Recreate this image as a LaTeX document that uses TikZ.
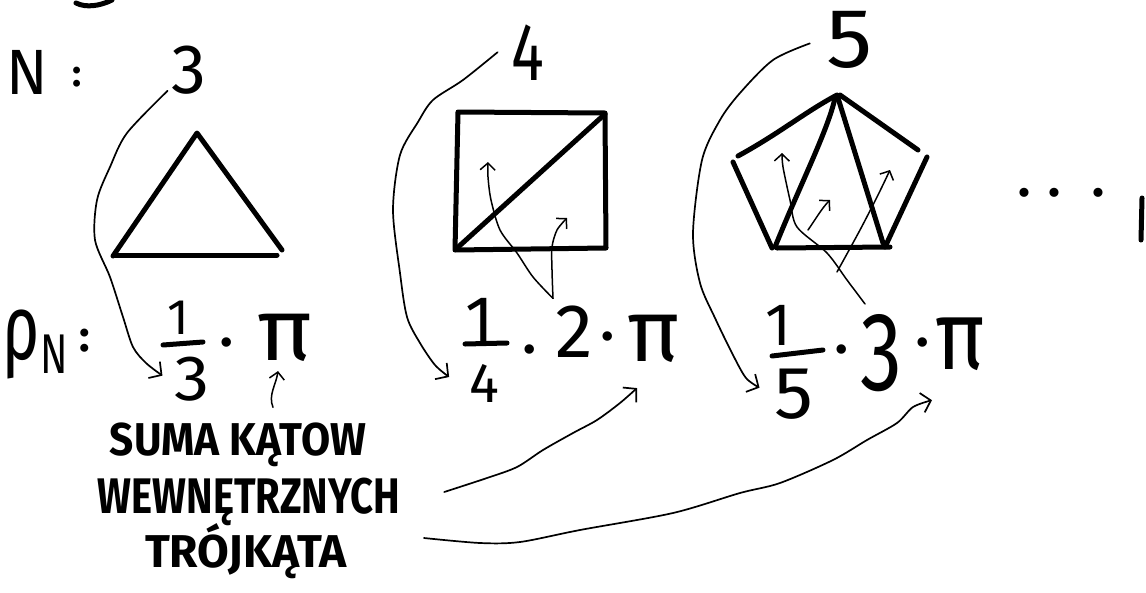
\documentclass[tikz,border=0pt]{standalone}
\usepackage{fontspec}
\setmainfont{Fira Sans}
\usepackage{graphicx}
\usetikzlibrary{arrows.meta}
% handwritten-like text: regular weight
\newcommand{\hw}[3][1]{{\fontsize{#2}{#2}\selectfont\scalebox{#1}[1]{#3}}}
% bold caption text
\newcommand{\hb}[3][1]{{\fontsize{#2}{#2}\selectfont\bfseries\scalebox{#1}[1]{#3}}}
\begin{document}
\begin{tikzpicture}[x=1pt,y=-1pt,
  txt/.style={inner sep=0pt, outer sep=0pt, anchor=base},
  stroke/.style={line width=5pt, line cap=round, line join=round},
  conn/.style={line width=1.7pt, line cap=round, line join=round, -{Straight Barb[length=9pt,width=20pt]}},
  sconn/.style={line width=1.5pt, line cap=round, line join=round, -{Straight Barb[length=7pt,width=15pt]}}]
\path[use as bounding box, fill=white] (0,0) rectangle (1146,592);

% --- top row labels
\node[txt] (nN) at (27,94) {\hw[0.95]{64}{N}};
\node[txt] (colA) at (77,86) {\hb{38}{:}};
\node[txt] (n3) at (189,93) {\hw{70}{3}};
\node[txt] (n4) at (528,80) {\hw[0.75]{82}{4}};
\node[txt] (n5) at (850,67) {\hw[1.1]{84}{5}};
\node[txt] (ell) at (1061,196) {\hb{50}{.\hspace{18pt}.\hspace{32pt}.}};

% --- second row
\node[txt, anchor=base west] (rho) at (2,373) {\raisebox{14pt}{\hw[0.7]{92}{ρ}}\kern1pt\hw[0.72]{56}{N}};
\node[txt] (colB) at (85,351) {\hb{44}{:}};

\node[txt] (num3) at (178,334) {\hw{50}{1}};
\node[txt] (den3) at (192,400) {\hw[1.1]{64}{3}};
\node[txt] (dt3) at (227,358) {\hb{52}{·}};
\node[txt] (pi3) at (285,360) {\hw[1.05]{88}{π}};

\node[txt] (num4) at (480,342) {\hw{66}{1}};
\node[txt] (den4) at (484,402) {\hw{56}{4}};
\node[txt] (dt4a) at (530,365) {\hb{52}{·}};
\node[txt] (two) at (574,357) {\hw{76}{2}};
\node[txt] (dt4b) at (608,352) {\hb{52}{·}};
\node[txt] (pi4) at (654,361) {\hw{88}{π}};

\node[txt] (num5) at (778,345) {\hw{60}{1}};
\node[txt] (den5) at (794,418) {\hw[1.05]{74}{5}};
\node[txt] (dt5a) at (842,365) {\hb{52}{·}};
\node[txt] (three) at (881,390) {\hw[0.75]{112}{3}};
\node[txt] (dt5b) at (923,358) {\hb{52}{·}};
\node[txt] (pi5) at (960,369) {\hw[0.85]{98}{π}};

% --- caption
\node[txt] (l1) at (238,455) {\hb[0.92]{46}{SUMA KĄTOW}};
\node[txt] (l2) at (249,513) {\hb[0.8]{50}{WEWNĘTRZNYCH}};
\node[txt] (l3) at (246,567) {\hb{46}{TRÓJKĄTA}};

% --- fraction bars
\draw[stroke] (163,345) -- (203,342);
\draw[stroke] (465,344) -- (507,343);
\draw[stroke] (772,356) -- (823,350);

% --- partial strokes at the edges
\draw[stroke] (76,3) .. controls (86,8) and (100,6) .. (112,0);
\draw[stroke] (1142,198) -- (1141,240);

% --- triangle
\draw[stroke] (113,256) -- (197,133) -- (282,250);
\draw[stroke] (115,255) -- (277,255);

% --- square
\draw[stroke] (458,112) -- (605,113) -- (606,248) -- (455,250) -- cycle;
\draw[stroke] (456,249) -- (605,114);

% --- pentagon
\draw[stroke] (738,156) .. controls (780,133) and (805,112) .. (837,95);
\draw[stroke] (840,95) -- (918,150);
\draw[stroke] (733,162) -- (772,248);
\draw[stroke] (927,157) -- (885,247);
\draw[stroke] (777,248) -- (890,247);
\draw[stroke] (835,98) .. controls (828,130) and (800,185) .. (775,247);
\draw[stroke] (838,98) -- (883,243);

% --- angle targets
\coordinate (angS1) at (488,162);
\coordinate (angS2) at (567,218);
\coordinate (angP1) at (782,153);
\coordinate (angP2) at (890,170);
\coordinate (angP3a) at (808,230);
\coordinate (angP3b) at (830,200);

% --- connectors N -> fractions
\draw[conn] plot[smooth] coordinates {([xshift=-4pt,yshift=3pt]n3.south west) (127,133) (110,167) (97,200) (95,240) (110,277) (123,317) (133,347) (146,363) ([xshift=-12pt,yshift=3pt]den3.west)};
\draw[conn] plot[smooth] coordinates {([xshift=-14pt]n4.west) (463,80) (433,100) (418,122) (400,155) (393,210) (400,273) (407,317) (420,343) (435,365) ([xshift=-20pt,yshift=6pt]den4.west)};
\draw[conn] plot[smooth] coordinates {([xshift=-17pt,yshift=-4pt]n5.west) (773,60) (740,93) (720,120) (702,160) (693,233) (700,283) (715,318) (733,355) (746,378) ([xshift=-15pt,yshift=6pt]den5.west)};

% --- caption -> pi
\draw[sconn] ([xshift=35pt,yshift=15pt]l1.north) .. controls (268,395) and (276,385) .. ([xshift=-7pt,yshift=-10pt]pi3.south);
\draw[conn] plot[smooth] coordinates {([xshift=44pt,yshift=21pt]l2.base east) (487,478) (517,467) (543,450) (573,433) (597,420) (620,403) ([xshift=-17pt,yshift=-26pt]pi4.south)};
\draw[conn] plot[smooth] coordinates {([xshift=77pt,yshift=29pt]l3.base east) (480,543) (520,542) (580,530) (673,513) (740,493) (780,483) (833,460) (867,440) (897,423) (913,407) ([xshift=-28pt,yshift=-30pt]pi5.south)};

% --- factors -> angles
\draw[sconn] plot[smooth] coordinates {([xshift=-21pt,yshift=7pt]two.north) (533,277) (517,253) (500,230) (491,200) (488,177) (angS1)};
\draw[sconn] plot[smooth] coordinates {([xshift=-21pt,yshift=7pt]two.north) (552,270) (552,247) (557,230) (angS2)};
\draw[sconn] plot[smooth] coordinates {([xshift=-16pt,yshift=10pt]three.north) (847,280) (827,253) (797,227) (790,200) (783,167) (angP1)};
\draw[sconn] plot[smooth] coordinates {([xshift=-44pt,yshift=42pt]three.north) (860,230) (878,195) (angP2)};
\draw[sconn] (angP3a) .. controls (815,220) and (822,208) .. (angP3b);
\end{tikzpicture}
\end{document}
